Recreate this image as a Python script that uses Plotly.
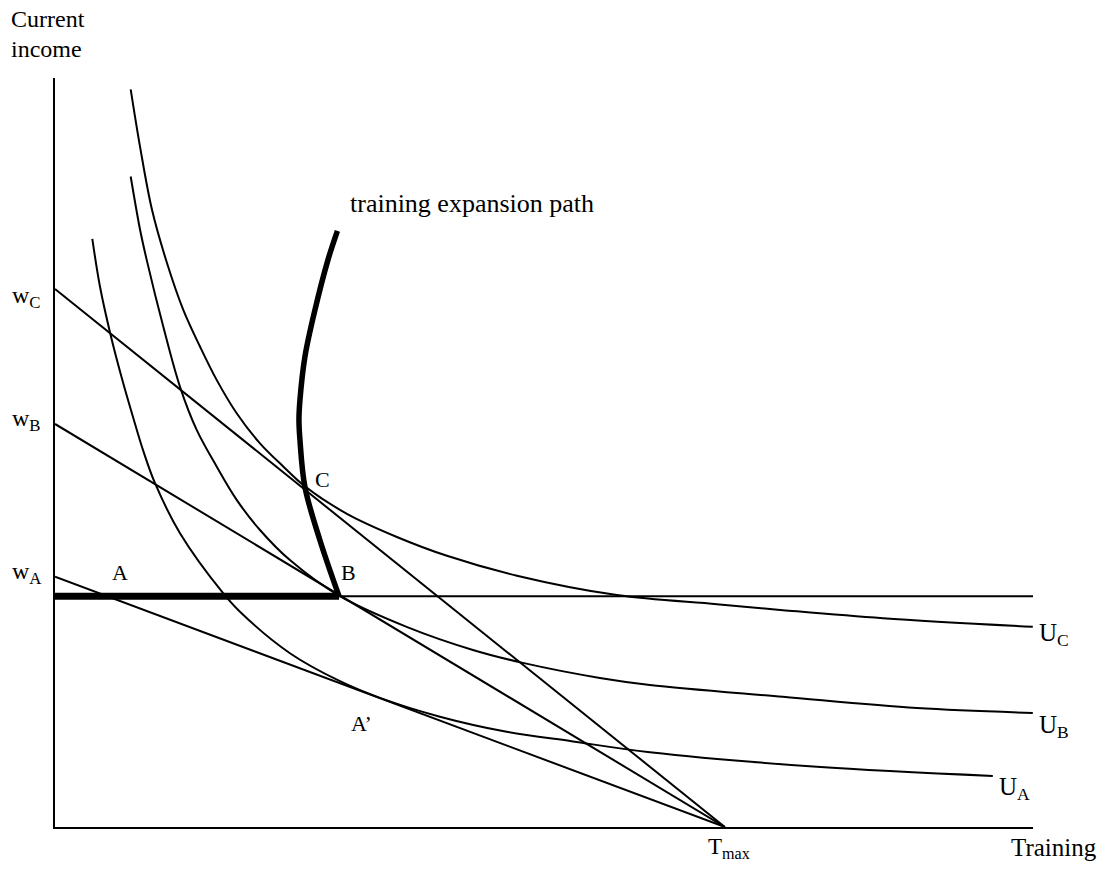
import plotly.graph_objects as go

# ---------------- data (chart units: training on x, current income on y) -------------
T_MAX = 10.0
X_END = 14.6
Y_TOP = 13.92

W_A = 4.65
W_B = 7.49
W_C = 10.0

FLOOR_INCOME = 4.29      # horizontal line through B
B_TRAINING = 4.24        # end of thick segment (point B)

ua_x = [0.557, 0.672, 0.831, 0.996, 1.160, 1.318, 1.493, 1.866, 2.507, 2.761, 3.507, 4.254, 4.851,
        5.746, 6.742, 7.731, 8.881, 11.373, 14.000]
ua_y = [10.93, 10.04, 9.14, 8.35, 7.64, 6.99, 6.39, 5.46, 4.35, 4.00, 3.23, 2.71, 2.40,
        2.05, 1.77, 1.59, 1.39, 1.12, 0.95]

ub_x = [1.13, 1.27, 1.369, 1.616, 1.866, 2.115, 2.413, 2.712, 3.060, 3.507, 4.24, 5.249, 6.239,
        6.985, 8.134, 8.881, 10.866, 12.866, 14.597]
ub_y = [12.09, 11.10, 10.54, 9.30, 8.18, 7.38, 6.70, 6.08, 5.52, 4.96, 4.30, 3.72, 3.29,
        3.05, 2.77, 2.64, 2.42, 2.21, 2.12]

uc_x = [1.13, 1.27, 1.448, 1.667, 1.915, 2.164, 2.413, 2.712, 3.060, 3.407, 3.731, 4.358, 5.104,
        5.851, 6.896, 8.388, 9.881, 10.866, 12.358, 14.597]
uc_y = [13.71, 12.64, 11.47, 10.50, 9.61, 8.93, 8.31, 7.69, 7.13, 6.70, 6.33, 5.82, 5.39,
        5.04, 4.67, 4.31, 4.14, 4.03, 3.88, 3.72]

path_x = [4.216, 4.075, 3.881, 3.731, 3.657, 3.642, 3.657, 3.731, 3.955, 4.24]
path_y = [11.08, 10.54, 9.61, 8.74, 7.94, 7.57, 7.19, 6.32, 5.33, 4.29]

# ---------------- figure -------------------------------------------------------------
FW, FH = 1110, 869
FONT = "Liberation Serif, Times New Roman, serif"
BLACK = "#000000"

fig = go.Figure()

def curve(x, y, width=2, shape="spline"):
    fig.add_trace(go.Scatter(
        x=x, y=y, mode="lines",
        line=dict(color=BLACK, width=width, shape=shape, smoothing=1.0),
        hoverinfo="skip", showlegend=False))

# budget lines
for w in (W_A, W_B, W_C):
    curve([0, T_MAX], [w, 0], shape="linear")

# horizontal line and thick segment
curve([0, X_END], [FLOOR_INCOME, FLOOR_INCOME], shape="linear")
curve([0, B_TRAINING], [FLOOR_INCOME, FLOOR_INCOME], width=7, shape="linear")

# indifference curves
curve(ua_x, ua_y)
curve(ub_x, ub_y)
curve(uc_x, uc_y)

# training expansion path
curve(path_x, path_y, width=5.5)

# ---------------- labels -------------------------------------------------------------
def X(px):
    return px / FW

def Y(py):
    return 1 - py / FH

def label(text, px, py, size=22, xanchor="left"):
    fig.add_annotation(text=text, x=X(px), y=Y(py), xref="paper", yref="paper",
                       xanchor=xanchor, yanchor="middle", showarrow=False,
                       font=dict(family=FONT, size=size, color=BLACK))

label("Current", 9, 19, 24)
label("income", 9, 49, 24)
label("w<sub>C</sub>", 10, 297, 24)
label("w<sub>B</sub>", 10, 420, 24)
label("w<sub>A</sub>", 10, 573, 24)
label("A", 110, 572)
label("B", 339, 572)
label("C", 313, 480)
label("A’", 349, 723)
label("training expansion path", 348, 203, 26)
label("U<sub>C</sub>", 1037, 634, 25)
label("U<sub>B</sub>", 1037, 726, 25)
label("U<sub>A</sub>", 997, 788, 25)
label("T<sub>max</sub>", 706, 848, 23)
label("Training", 1009, 847, 25)

fig.update_layout(
    width=FW, height=FH,
    margin=dict(l=0, r=0, t=0, b=0),
    paper_bgcolor="white", plot_bgcolor="white",
    showlegend=False,
    xaxis=dict(domain=[X(55), X(1033)], range=[0, X_END], showline=True, linewidth=2,
               linecolor=BLACK, showgrid=False, zeroline=False, ticks="",
               showticklabels=False, fixedrange=True),
    yaxis=dict(domain=[Y(827), Y(78)], range=[0, Y_TOP], showline=True, linewidth=2,
               linecolor=BLACK, showgrid=False, zeroline=False, ticks="",
               showticklabels=False, fixedrange=True),
)

fig.write_html("out.html", config={"displayModeBar": False},
               post_script="document.body.style.margin = '0';")
